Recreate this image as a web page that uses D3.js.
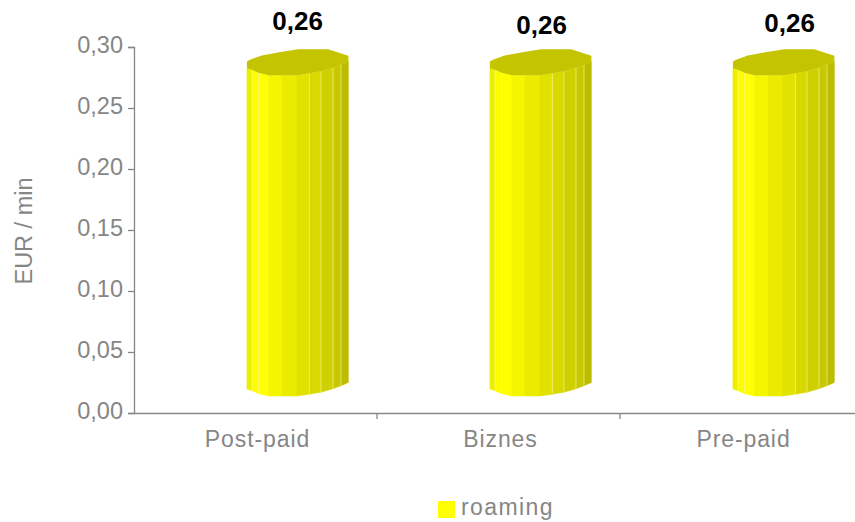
<!DOCTYPE html>
<html>
<head>
<meta charset="utf-8">
<script src="https://cdn.jsdelivr.net/npm/d3@7"></script>
<style>
  html, body { margin: 0; background: #fff; }
  text { font-family: "Liberation Sans", Arial, sans-serif; }
</style>
</head>
<body>
<svg id="chart" width="855" height="522" style="display:block"></svg>
<script>
var categories = ["Post-paid", "Biznes", "Pre-paid"];
var roaming = [0.263, 0.263, 0.263];
var yTicks = [0, 0.05, 0.10, 0.15, 0.20, 0.25, 0.30];
var seriesName = "roaming";
var axisTitle = "EUR / min";

var svg = d3.select("#chart");
var grey = "#868686";
var fmt = function(v) { return v.toFixed(2).replace(".", ","); };

var x = d3.scaleBand().domain(categories).range([134, 863]);
var y = d3.scaleLinear().domain([0, 0.3]).range([413, 47]);

//fake 3d cylinder: facet edges as share of bar width, front edge rise and lid outline in px
var barW = 101.5, barShift = x.bandwidth() / 2 - 8.6, lift = 17;
var edgeX = [0, .05, .115, .214, .345, .493, .615, .73, .848, .927, 1];
var edgeY = [-7, -5.3, -2.3, 0, 0, 0, -1.8, -3.8, -7.3, -10.3, -13.6];
var facetFill = ["#eeee00", "#fdfd00", "#ffff00", "#f5f500", "#ebeb00", "#e2e200", "#d9d900", "#d0d000", "#c8c800", "#bdbd00"];
var paleEdges = [1, 2, 6, 7, 8, 9];
var lidBack = [[1, -13.6], [1, -19.3], [.8, -26], [.505, -26], [.32, -23], [.147, -19.6], [.03, -15.5], [0, -13.6]];

//axes
var yAxis = svg.append("g")
    .attr("transform", "translate(134,0)")
    .call(d3.axisLeft(y).tickValues(yTicks).tickFormat(fmt).tickSize(6).tickPadding(5));
yAxis.selectAll("text").style("font-size", "23.5px").attr("fill", grey).attr("dy", "0.22em");

var xAxis = svg.append("g")
    .attr("transform", "translate(0,413)")
    .call(d3.axisBottom(x).tickSize(0).tickPadding(18));
xAxis.selectAll("text")
    .style("font-size", "23px")
    .style("letter-spacing", "0.9px")
    .attr("dx", 2)
    .attr("fill", grey);
svg.selectAll(".domain").attr("stroke", grey).attr("stroke-width", 1.3);
yAxis.selectAll("line").attr("stroke", grey).attr("stroke-width", 1.3);

//x ticks sit between the categories
svg.selectAll("line.sep")
    .data(categories)
    .enter().append("line")
    .attr("class", "sep")
    .attr("x1", d => x(d) + x.bandwidth())
    .attr("x2", d => x(d) + x.bandwidth())
    .attr("y1", 413)
    .attr("y2", 419)
    .attr("stroke", grey)
    .attr("stroke-width", 1.3);

//bars
categories.forEach(function(cat, i) {
    var left = x(cat) + barShift;
    var top = y(roaming[i]) - lift;
    var bottom = y(0) - lift;
    var g = svg.append("g").attr("class", "bar");

    facetFill.forEach(function(col, k) {
        var x0 = left + edgeX[k] * barW, x1 = left + edgeX[k + 1] * barW;
        var pts = [[x0, top + edgeY[k]], [x1, top + edgeY[k + 1]],
                   [x1, bottom + edgeY[k + 1]], [x0, bottom + edgeY[k]]];
        g.append("polygon")
            .attr("points", pts.join(" "))
            .attr("fill", col)
            .attr("stroke", col)
            .attr("stroke-width", 0.5);
    });

    paleEdges.forEach(function(k) {
        var ex = left + edgeX[k] * barW;
        g.append("line")
            .attr("x1", ex)
            .attr("x2", ex)
            .attr("y1", top + edgeY[k])
            .attr("y2", bottom + edgeY[k])
            .attr("stroke", "#f6f68c")
            .attr("stroke-width", 0.7);
    });

    //lid
    var lid = edgeX.map((e, k) => [left + e * barW, top + edgeY[k]]);
    lidBack.forEach(function(b) {
        lid.push([left + b[0] * barW, top + b[1]]);
    });
    g.append("polygon")
        .attr("points", lid.join(" "))
        .attr("fill", "#c4c400");
});

//value labels
var labelDx = [0, 1, 6];
var labelY = [30, 34, 32];
svg.selectAll("text.val")
    .data(roaming)
    .enter().append("text")
    .attr("class", "val")
    .attr("x", (d, i) => x(categories[i]) + barShift + barW / 2 + labelDx[i])
    .attr("y", (d, i) => labelY[i])
    .attr("text-anchor", "middle")
    .style("font-size", "26px")
    .style("font-weight", "bold")
    .attr("fill", "#000")
    .text(fmt);

//axis title
svg.append("text")
    .attr("transform", "translate(32,231) rotate(-90)")
    .attr("text-anchor", "middle")
    .style("font-size", "23.5px")
    .attr("fill", grey)
    .text(axisTitle);

//legend
svg.append("rect")
    .attr("x", 438)
    .attr("y", 501)
    .attr("width", 17)
    .attr("height", 17)
    .attr("fill", "#ffff00");
svg.append("text")
    .attr("x", 461)
    .attr("y", 515)
    .style("font-size", "23px")
    .style("letter-spacing", "1.4px")
    .attr("fill", grey)
    .text(seriesName);
</script>
</body>
</html>
